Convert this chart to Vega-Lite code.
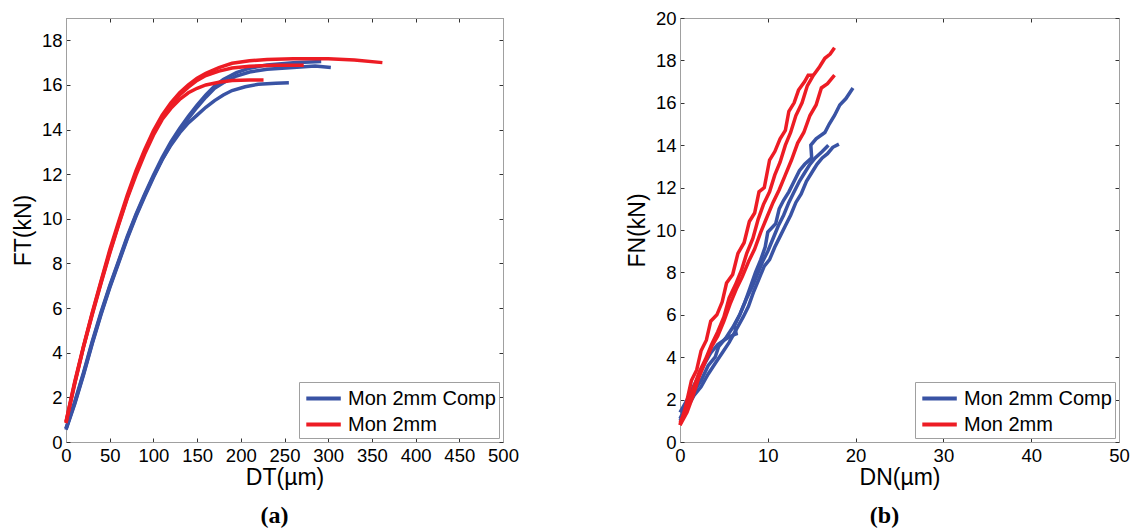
{
  "$schema": "https://vega.github.io/schema/vega-lite/v6.json",
  "padding": {"left": 12, "top": 9, "right": 0, "bottom": 0},
  "background": "white",
  "config": {
    "font": "Liberation Sans",
    "view": {"stroke": null},
    "axis": {
      "grid": false,
      "domainColor": "#a0a0a0",
      "domainWidth": 1,
      "tickColor": "#333333",
      "tickSize": -4,
      "tickWidth": 1,
      "labelFontSize": 18.5,
      "labelColor": "#000000",
      "labelPadding": 8,
      "labelOverlap": false,
      "labelFlush": false,
      "titleFontSize": 23,
      "titleFontWeight": "normal",
      "titleColor": "#000000"
    },
    "legend": {
      "orient": "bottom-right",
      "offset": 4,
      "padding": 3,
      "strokeColor": "#a0a0a0",
      "fillColor": "white",
      "symbolType": "M-0.8,0H2.2",
      "symbolSize": 529,
      "symbolStrokeWidth": 4,
      "labelFontSize": 20,
      "labelOffset": 19,
      "rowPadding": 2,
      "labelColor": "#000000"
    }
  },
  "datasets": {
    "a": [
      {"series":"Mon 2mm Comp","curve":"B1","x":0,"y":0.6},{"series":"Mon 2mm Comp","curve":"B1","x":10,"y":1.8},{"series":"Mon 2mm Comp","curve":"B1","x":20,"y":3.1},{"series":"Mon 2mm Comp","curve":"B1","x":30,"y":4.5},{"series":"Mon 2mm Comp","curve":"B1","x":40,"y":5.8},{"series":"Mon 2mm Comp","curve":"B1","x":50,"y":7.0},{"series":"Mon 2mm Comp","curve":"B1","x":60,"y":8.1},{"series":"Mon 2mm Comp","curve":"B1","x":70,"y":9.2},{"series":"Mon 2mm Comp","curve":"B1","x":80,"y":10.2},{"series":"Mon 2mm Comp","curve":"B1","x":90,"y":11.1},{"series":"Mon 2mm Comp","curve":"B1","x":100,"y":11.95},{"series":"Mon 2mm Comp","curve":"B1","x":110,"y":12.75},{"series":"Mon 2mm Comp","curve":"B1","x":120,"y":13.45},{"series":"Mon 2mm Comp","curve":"B1","x":130,"y":14.05},{"series":"Mon 2mm Comp","curve":"B1","x":140,"y":14.6},{"series":"Mon 2mm Comp","curve":"B1","x":150,"y":15.1},{"series":"Mon 2mm Comp","curve":"B1","x":160,"y":15.55},{"series":"Mon 2mm Comp","curve":"B1","x":170,"y":15.95},{"series":"Mon 2mm Comp","curve":"B1","x":180,"y":16.25},{"series":"Mon 2mm Comp","curve":"B1","x":195,"y":16.55},{"series":"Mon 2mm Comp","curve":"B1","x":210,"y":16.75},{"series":"Mon 2mm Comp","curve":"B1","x":230,"y":16.9},{"series":"Mon 2mm Comp","curve":"B1","x":260,"y":17.0},{"series":"Mon 2mm Comp","curve":"B1","x":292,"y":17.05},
      {"series":"Mon 2mm Comp","curve":"B2","x":0,"y":0.55},{"series":"Mon 2mm Comp","curve":"B2","x":10,"y":1.7},{"series":"Mon 2mm Comp","curve":"B2","x":20,"y":3.0},{"series":"Mon 2mm Comp","curve":"B2","x":30,"y":4.4},{"series":"Mon 2mm Comp","curve":"B2","x":40,"y":5.7},{"series":"Mon 2mm Comp","curve":"B2","x":50,"y":6.9},{"series":"Mon 2mm Comp","curve":"B2","x":60,"y":8.0},{"series":"Mon 2mm Comp","curve":"B2","x":70,"y":9.1},{"series":"Mon 2mm Comp","curve":"B2","x":80,"y":10.1},{"series":"Mon 2mm Comp","curve":"B2","x":90,"y":11.0},{"series":"Mon 2mm Comp","curve":"B2","x":100,"y":11.85},{"series":"Mon 2mm Comp","curve":"B2","x":110,"y":12.65},{"series":"Mon 2mm Comp","curve":"B2","x":120,"y":13.35},{"series":"Mon 2mm Comp","curve":"B2","x":130,"y":13.95},{"series":"Mon 2mm Comp","curve":"B2","x":140,"y":14.5},{"series":"Mon 2mm Comp","curve":"B2","x":150,"y":15.0},{"series":"Mon 2mm Comp","curve":"B2","x":160,"y":15.45},{"series":"Mon 2mm Comp","curve":"B2","x":170,"y":15.85},{"series":"Mon 2mm Comp","curve":"B2","x":180,"y":16.1},{"series":"Mon 2mm Comp","curve":"B2","x":195,"y":16.4},{"series":"Mon 2mm Comp","curve":"B2","x":210,"y":16.58},{"series":"Mon 2mm Comp","curve":"B2","x":230,"y":16.7},{"series":"Mon 2mm Comp","curve":"B2","x":260,"y":16.78},{"series":"Mon 2mm Comp","curve":"B2","x":285,"y":16.85},{"series":"Mon 2mm Comp","curve":"B2","x":303,"y":16.78},
      {"series":"Mon 2mm Comp","curve":"B3","x":0,"y":0.6},{"series":"Mon 2mm Comp","curve":"B3","x":10,"y":1.75},{"series":"Mon 2mm Comp","curve":"B3","x":20,"y":3.05},{"series":"Mon 2mm Comp","curve":"B3","x":30,"y":4.45},{"series":"Mon 2mm Comp","curve":"B3","x":40,"y":5.75},{"series":"Mon 2mm Comp","curve":"B3","x":50,"y":6.95},{"series":"Mon 2mm Comp","curve":"B3","x":60,"y":8.05},{"series":"Mon 2mm Comp","curve":"B3","x":70,"y":9.15},{"series":"Mon 2mm Comp","curve":"B3","x":80,"y":10.15},{"series":"Mon 2mm Comp","curve":"B3","x":90,"y":11.05},{"series":"Mon 2mm Comp","curve":"B3","x":100,"y":11.9},{"series":"Mon 2mm Comp","curve":"B3","x":110,"y":12.65},{"series":"Mon 2mm Comp","curve":"B3","x":120,"y":13.3},{"series":"Mon 2mm Comp","curve":"B3","x":130,"y":13.85},{"series":"Mon 2mm Comp","curve":"B3","x":140,"y":14.3},{"series":"Mon 2mm Comp","curve":"B3","x":150,"y":14.65},{"series":"Mon 2mm Comp","curve":"B3","x":160,"y":15.0},{"series":"Mon 2mm Comp","curve":"B3","x":170,"y":15.3},{"series":"Mon 2mm Comp","curve":"B3","x":180,"y":15.55},{"series":"Mon 2mm Comp","curve":"B3","x":190,"y":15.75},{"series":"Mon 2mm Comp","curve":"B3","x":205,"y":15.92},{"series":"Mon 2mm Comp","curve":"B3","x":220,"y":16.03},{"series":"Mon 2mm Comp","curve":"B3","x":240,"y":16.08},{"series":"Mon 2mm Comp","curve":"B3","x":255,"y":16.1},
      {"series":"Mon 2mm","curve":"R1","x":0,"y":0.9},{"series":"Mon 2mm","curve":"R1","x":10,"y":2.7},{"series":"Mon 2mm","curve":"R1","x":20,"y":4.3},{"series":"Mon 2mm","curve":"R1","x":30,"y":5.8},{"series":"Mon 2mm","curve":"R1","x":40,"y":7.2},{"series":"Mon 2mm","curve":"R1","x":50,"y":8.6},{"series":"Mon 2mm","curve":"R1","x":60,"y":9.85},{"series":"Mon 2mm","curve":"R1","x":70,"y":11.05},{"series":"Mon 2mm","curve":"R1","x":80,"y":12.15},{"series":"Mon 2mm","curve":"R1","x":90,"y":13.1},{"series":"Mon 2mm","curve":"R1","x":100,"y":13.95},{"series":"Mon 2mm","curve":"R1","x":110,"y":14.65},{"series":"Mon 2mm","curve":"R1","x":120,"y":15.2},{"series":"Mon 2mm","curve":"R1","x":130,"y":15.65},{"series":"Mon 2mm","curve":"R1","x":140,"y":16.0},{"series":"Mon 2mm","curve":"R1","x":150,"y":16.3},{"series":"Mon 2mm","curve":"R1","x":160,"y":16.52},{"series":"Mon 2mm","curve":"R1","x":175,"y":16.78},{"series":"Mon 2mm","curve":"R1","x":190,"y":16.97},{"series":"Mon 2mm","curve":"R1","x":210,"y":17.08},{"series":"Mon 2mm","curve":"R1","x":230,"y":17.14},{"series":"Mon 2mm","curve":"R1","x":260,"y":17.17},{"series":"Mon 2mm","curve":"R1","x":300,"y":17.17},{"series":"Mon 2mm","curve":"R1","x":330,"y":17.12},{"series":"Mon 2mm","curve":"R1","x":362,"y":17.0},
      {"series":"Mon 2mm","curve":"R2","x":0,"y":0.85},{"series":"Mon 2mm","curve":"R2","x":10,"y":2.6},{"series":"Mon 2mm","curve":"R2","x":20,"y":4.25},{"series":"Mon 2mm","curve":"R2","x":30,"y":5.75},{"series":"Mon 2mm","curve":"R2","x":40,"y":7.15},{"series":"Mon 2mm","curve":"R2","x":50,"y":8.5},{"series":"Mon 2mm","curve":"R2","x":60,"y":9.75},{"series":"Mon 2mm","curve":"R2","x":70,"y":10.95},{"series":"Mon 2mm","curve":"R2","x":80,"y":12.05},{"series":"Mon 2mm","curve":"R2","x":90,"y":13.0},{"series":"Mon 2mm","curve":"R2","x":100,"y":13.85},{"series":"Mon 2mm","curve":"R2","x":110,"y":14.55},{"series":"Mon 2mm","curve":"R2","x":120,"y":15.1},{"series":"Mon 2mm","curve":"R2","x":130,"y":15.55},{"series":"Mon 2mm","curve":"R2","x":140,"y":15.9},{"series":"Mon 2mm","curve":"R2","x":150,"y":16.2},{"series":"Mon 2mm","curve":"R2","x":160,"y":16.42},{"series":"Mon 2mm","curve":"R2","x":175,"y":16.62},{"series":"Mon 2mm","curve":"R2","x":190,"y":16.76},{"series":"Mon 2mm","curve":"R2","x":210,"y":16.84},{"series":"Mon 2mm","curve":"R2","x":240,"y":16.88},{"series":"Mon 2mm","curve":"R2","x":272,"y":16.88},
      {"series":"Mon 2mm","curve":"R3","x":0,"y":0.9},{"series":"Mon 2mm","curve":"R3","x":10,"y":2.65},{"series":"Mon 2mm","curve":"R3","x":20,"y":4.25},{"series":"Mon 2mm","curve":"R3","x":30,"y":5.7},{"series":"Mon 2mm","curve":"R3","x":40,"y":7.1},{"series":"Mon 2mm","curve":"R3","x":50,"y":8.45},{"series":"Mon 2mm","curve":"R3","x":60,"y":9.7},{"series":"Mon 2mm","curve":"R3","x":70,"y":10.9},{"series":"Mon 2mm","curve":"R3","x":80,"y":11.95},{"series":"Mon 2mm","curve":"R3","x":90,"y":12.9},{"series":"Mon 2mm","curve":"R3","x":100,"y":13.75},{"series":"Mon 2mm","curve":"R3","x":110,"y":14.45},{"series":"Mon 2mm","curve":"R3","x":120,"y":14.95},{"series":"Mon 2mm","curve":"R3","x":130,"y":15.35},{"series":"Mon 2mm","curve":"R3","x":140,"y":15.65},{"series":"Mon 2mm","curve":"R3","x":150,"y":15.85},{"series":"Mon 2mm","curve":"R3","x":160,"y":16.0},{"series":"Mon 2mm","curve":"R3","x":175,"y":16.12},{"series":"Mon 2mm","curve":"R3","x":190,"y":16.2},{"series":"Mon 2mm","curve":"R3","x":210,"y":16.22},{"series":"Mon 2mm","curve":"R3","x":226,"y":16.22}
    ],
    "b": [
      {"series":"Mon 2mm Comp","curve":"B1","x":0,"y":1.4},{"series":"Mon 2mm Comp","curve":"B1","x":0.7,"y":1.9},{"series":"Mon 2mm Comp","curve":"B1","x":1.4,"y":2.5},{"series":"Mon 2mm Comp","curve":"B1","x":2.1,"y":3.1},{"series":"Mon 2mm Comp","curve":"B1","x":2.8,"y":3.7},{"series":"Mon 2mm Comp","curve":"B1","x":3.5,"y":4.2},{"series":"Mon 2mm Comp","curve":"B1","x":4.3,"y":4.6},{"series":"Mon 2mm Comp","curve":"B1","x":5.0,"y":4.8},{"series":"Mon 2mm Comp","curve":"B1","x":5.8,"y":5.0},{"series":"Mon 2mm Comp","curve":"B1","x":6.4,"y":5.1},{"series":"Mon 2mm Comp","curve":"B1","x":6.2,"y":5.5},{"series":"Mon 2mm Comp","curve":"B1","x":6.8,"y":6.0},{"series":"Mon 2mm Comp","curve":"B1","x":7.4,"y":6.6},{"series":"Mon 2mm Comp","curve":"B1","x":8.0,"y":7.3},{"series":"Mon 2mm Comp","curve":"B1","x":8.6,"y":8.0},{"series":"Mon 2mm Comp","curve":"B1","x":9.2,"y":8.6},{"series":"Mon 2mm Comp","curve":"B1","x":9.7,"y":9.2},{"series":"Mon 2mm Comp","curve":"B1","x":10.0,"y":9.9},{"series":"Mon 2mm Comp","curve":"B1","x":10.9,"y":10.3},{"series":"Mon 2mm Comp","curve":"B1","x":11.3,"y":11.0},{"series":"Mon 2mm Comp","curve":"B1","x":11.8,"y":11.4},{"series":"Mon 2mm Comp","curve":"B1","x":12.4,"y":11.8},{"series":"Mon 2mm Comp","curve":"B1","x":13.0,"y":12.3},{"series":"Mon 2mm Comp","curve":"B1","x":13.6,"y":12.8},{"series":"Mon 2mm Comp","curve":"B1","x":14.2,"y":13.1},{"series":"Mon 2mm Comp","curve":"B1","x":15.0,"y":13.4},{"series":"Mon 2mm Comp","curve":"B1","x":14.9,"y":14.0},{"series":"Mon 2mm Comp","curve":"B1","x":15.5,"y":14.3},{"series":"Mon 2mm Comp","curve":"B1","x":16.5,"y":14.6},{"series":"Mon 2mm Comp","curve":"B1","x":17.0,"y":15.0},{"series":"Mon 2mm Comp","curve":"B1","x":17.6,"y":15.4},{"series":"Mon 2mm Comp","curve":"B1","x":18.2,"y":15.9},{"series":"Mon 2mm Comp","curve":"B1","x":18.9,"y":16.2},{"series":"Mon 2mm Comp","curve":"B1","x":19.7,"y":16.7},
      {"series":"Mon 2mm Comp","curve":"B2","x":0,"y":1.1},{"series":"Mon 2mm Comp","curve":"B2","x":0.8,"y":1.8},{"series":"Mon 2mm Comp","curve":"B2","x":1.6,"y":2.4},{"series":"Mon 2mm Comp","curve":"B2","x":2.4,"y":2.9},{"series":"Mon 2mm Comp","curve":"B2","x":3.2,"y":3.6},{"series":"Mon 2mm Comp","curve":"B2","x":4.0,"y":4.0},{"series":"Mon 2mm Comp","curve":"B2","x":4.4,"y":4.5},{"series":"Mon 2mm Comp","curve":"B2","x":5.2,"y":4.9},{"series":"Mon 2mm Comp","curve":"B2","x":6.0,"y":5.4},{"series":"Mon 2mm Comp","curve":"B2","x":6.8,"y":6.0},{"series":"Mon 2mm Comp","curve":"B2","x":7.5,"y":6.7},{"series":"Mon 2mm Comp","curve":"B2","x":8.2,"y":7.3},{"series":"Mon 2mm Comp","curve":"B2","x":8.8,"y":7.9},{"series":"Mon 2mm Comp","curve":"B2","x":9.4,"y":8.5},{"series":"Mon 2mm Comp","curve":"B2","x":10.0,"y":9.0},{"series":"Mon 2mm Comp","curve":"B2","x":10.6,"y":9.6},{"series":"Mon 2mm Comp","curve":"B2","x":11.2,"y":10.2},{"series":"Mon 2mm Comp","curve":"B2","x":11.8,"y":10.7},{"series":"Mon 2mm Comp","curve":"B2","x":12.4,"y":11.3},{"series":"Mon 2mm Comp","curve":"B2","x":13.0,"y":11.8},{"series":"Mon 2mm Comp","curve":"B2","x":13.6,"y":12.3},{"series":"Mon 2mm Comp","curve":"B2","x":14.2,"y":12.7},{"series":"Mon 2mm Comp","curve":"B2","x":14.8,"y":13.1},{"series":"Mon 2mm Comp","curve":"B2","x":15.4,"y":13.4},{"series":"Mon 2mm Comp","curve":"B2","x":16.2,"y":13.7},{"series":"Mon 2mm Comp","curve":"B2","x":16.9,"y":14.0},
      {"series":"Mon 2mm Comp","curve":"B3","x":0,"y":1.0},{"series":"Mon 2mm Comp","curve":"B3","x":0.8,"y":1.6},{"series":"Mon 2mm Comp","curve":"B3","x":1.6,"y":2.2},{"series":"Mon 2mm Comp","curve":"B3","x":2.4,"y":2.6},{"series":"Mon 2mm Comp","curve":"B3","x":3.2,"y":3.2},{"series":"Mon 2mm Comp","curve":"B3","x":4.0,"y":3.7},{"series":"Mon 2mm Comp","curve":"B3","x":4.8,"y":4.2},{"series":"Mon 2mm Comp","curve":"B3","x":5.6,"y":4.7},{"series":"Mon 2mm Comp","curve":"B3","x":6.4,"y":5.3},{"series":"Mon 2mm Comp","curve":"B3","x":7.2,"y":5.9},{"series":"Mon 2mm Comp","curve":"B3","x":7.8,"y":6.4},{"series":"Mon 2mm Comp","curve":"B3","x":8.4,"y":7.1},{"series":"Mon 2mm Comp","curve":"B3","x":9.0,"y":7.7},{"series":"Mon 2mm Comp","curve":"B3","x":9.6,"y":8.3},{"series":"Mon 2mm Comp","curve":"B3","x":10.2,"y":8.6},{"series":"Mon 2mm Comp","curve":"B3","x":10.8,"y":9.2},{"series":"Mon 2mm Comp","curve":"B3","x":11.4,"y":9.7},{"series":"Mon 2mm Comp","curve":"B3","x":12.0,"y":10.2},{"series":"Mon 2mm Comp","curve":"B3","x":12.6,"y":10.7},{"series":"Mon 2mm Comp","curve":"B3","x":13.2,"y":11.3},{"series":"Mon 2mm Comp","curve":"B3","x":13.8,"y":11.7},{"series":"Mon 2mm Comp","curve":"B3","x":14.4,"y":12.3},{"series":"Mon 2mm Comp","curve":"B3","x":15.0,"y":12.7},{"series":"Mon 2mm Comp","curve":"B3","x":15.6,"y":13.1},{"series":"Mon 2mm Comp","curve":"B3","x":16.2,"y":13.4},{"series":"Mon 2mm Comp","curve":"B3","x":16.8,"y":13.6},{"series":"Mon 2mm Comp","curve":"B3","x":17.4,"y":13.9},{"series":"Mon 2mm Comp","curve":"B3","x":18.1,"y":14.05},
      {"series":"Mon 2mm","curve":"R1","x":0,"y":0.8},{"series":"Mon 2mm","curve":"R1","x":0.6,"y":1.6},{"series":"Mon 2mm","curve":"R1","x":1.3,"y":2.9},{"series":"Mon 2mm","curve":"R1","x":1.9,"y":3.4},{"series":"Mon 2mm","curve":"R1","x":2.4,"y":4.3},{"series":"Mon 2mm","curve":"R1","x":3.0,"y":4.8},{"series":"Mon 2mm","curve":"R1","x":3.5,"y":5.7},{"series":"Mon 2mm","curve":"R1","x":4.2,"y":6.0},{"series":"Mon 2mm","curve":"R1","x":4.8,"y":6.6},{"series":"Mon 2mm","curve":"R1","x":5.3,"y":7.5},{"series":"Mon 2mm","curve":"R1","x":6.0,"y":7.9},{"series":"Mon 2mm","curve":"R1","x":6.6,"y":8.9},{"series":"Mon 2mm","curve":"R1","x":7.3,"y":9.4},{"series":"Mon 2mm","curve":"R1","x":7.9,"y":10.4},{"series":"Mon 2mm","curve":"R1","x":8.5,"y":10.8},{"series":"Mon 2mm","curve":"R1","x":9.0,"y":11.8},{"series":"Mon 2mm","curve":"R1","x":9.6,"y":12.0},{"series":"Mon 2mm","curve":"R1","x":10.2,"y":13.3},{"series":"Mon 2mm","curve":"R1","x":10.8,"y":13.7},{"series":"Mon 2mm","curve":"R1","x":11.4,"y":14.3},{"series":"Mon 2mm","curve":"R1","x":12.0,"y":14.7},{"series":"Mon 2mm","curve":"R1","x":12.4,"y":15.6},{"series":"Mon 2mm","curve":"R1","x":13.0,"y":16.0},{"series":"Mon 2mm","curve":"R1","x":13.5,"y":16.6},{"series":"Mon 2mm","curve":"R1","x":14.2,"y":17.0},{"series":"Mon 2mm","curve":"R1","x":14.6,"y":17.3},{"series":"Mon 2mm","curve":"R1","x":15.2,"y":17.3},
      {"series":"Mon 2mm","curve":"R2","x":0,"y":0.9},{"series":"Mon 2mm","curve":"R2","x":0.8,"y":1.6},{"series":"Mon 2mm","curve":"R2","x":1.5,"y":2.5},{"series":"Mon 2mm","curve":"R2","x":2.2,"y":3.3},{"series":"Mon 2mm","curve":"R2","x":2.9,"y":3.9},{"series":"Mon 2mm","curve":"R2","x":3.6,"y":4.6},{"series":"Mon 2mm","curve":"R2","x":4.3,"y":5.2},{"series":"Mon 2mm","curve":"R2","x":5.0,"y":5.9},{"series":"Mon 2mm","curve":"R2","x":5.6,"y":6.8},{"series":"Mon 2mm","curve":"R2","x":6.3,"y":7.4},{"series":"Mon 2mm","curve":"R2","x":7.0,"y":8.1},{"series":"Mon 2mm","curve":"R2","x":7.6,"y":8.9},{"series":"Mon 2mm","curve":"R2","x":8.3,"y":9.6},{"series":"Mon 2mm","curve":"R2","x":8.9,"y":10.5},{"series":"Mon 2mm","curve":"R2","x":9.5,"y":11.2},{"series":"Mon 2mm","curve":"R2","x":10.2,"y":11.8},{"series":"Mon 2mm","curve":"R2","x":10.8,"y":12.6},{"series":"Mon 2mm","curve":"R2","x":11.4,"y":13.2},{"series":"Mon 2mm","curve":"R2","x":12.0,"y":14.0},{"series":"Mon 2mm","curve":"R2","x":12.6,"y":14.6},{"series":"Mon 2mm","curve":"R2","x":13.2,"y":15.4},{"series":"Mon 2mm","curve":"R2","x":13.9,"y":16.0},{"series":"Mon 2mm","curve":"R2","x":14.5,"y":16.8},{"series":"Mon 2mm","curve":"R2","x":15.2,"y":17.3},{"series":"Mon 2mm","curve":"R2","x":15.9,"y":17.7},{"series":"Mon 2mm","curve":"R2","x":16.5,"y":18.1},{"series":"Mon 2mm","curve":"R2","x":17.1,"y":18.3},{"series":"Mon 2mm","curve":"R2","x":17.6,"y":18.6},
      {"series":"Mon 2mm","curve":"R3","x":0,"y":0.8},{"series":"Mon 2mm","curve":"R3","x":0.8,"y":1.4},{"series":"Mon 2mm","curve":"R3","x":1.5,"y":2.2},{"series":"Mon 2mm","curve":"R3","x":2.2,"y":3.1},{"series":"Mon 2mm","curve":"R3","x":2.9,"y":3.8},{"series":"Mon 2mm","curve":"R3","x":3.6,"y":4.5},{"series":"Mon 2mm","curve":"R3","x":4.3,"y":5.0},{"series":"Mon 2mm","curve":"R3","x":5.0,"y":5.7},{"series":"Mon 2mm","curve":"R3","x":5.7,"y":6.5},{"series":"Mon 2mm","curve":"R3","x":6.4,"y":7.2},{"series":"Mon 2mm","curve":"R3","x":7.1,"y":7.8},{"series":"Mon 2mm","curve":"R3","x":7.8,"y":8.5},{"series":"Mon 2mm","curve":"R3","x":8.5,"y":9.1},{"series":"Mon 2mm","curve":"R3","x":9.2,"y":9.9},{"series":"Mon 2mm","curve":"R3","x":9.9,"y":10.6},{"series":"Mon 2mm","curve":"R3","x":10.6,"y":11.3},{"series":"Mon 2mm","curve":"R3","x":11.3,"y":11.9},{"series":"Mon 2mm","curve":"R3","x":12.0,"y":12.6},{"series":"Mon 2mm","curve":"R3","x":12.7,"y":13.3},{"series":"Mon 2mm","curve":"R3","x":13.4,"y":14.1},{"series":"Mon 2mm","curve":"R3","x":14.1,"y":14.6},{"series":"Mon 2mm","curve":"R3","x":14.8,"y":15.4},{"series":"Mon 2mm","curve":"R3","x":15.5,"y":15.9},{"series":"Mon 2mm","curve":"R3","x":16.1,"y":16.7},{"series":"Mon 2mm","curve":"R3","x":16.8,"y":16.9},{"series":"Mon 2mm","curve":"R3","x":17.6,"y":17.3}
    ]
  },
  "spacing": 107,
  "resolve": {"scale": {"color": "independent"}, "legend": {"color": "independent"}},
  "hconcat": [
    {
      "width": 437,
      "height": 424,
      "data": {"name": "a"},
      "title": {"text": "(a)", "orient": "bottom", "frame": "group", "anchor": "middle", "font": "Liberation Serif", "fontWeight": "bold", "fontSize": 24, "offset": 14, "dx": -10, "color": "#000000"},
      "layer": [
        {
          "mark": {"type": "line", "strokeWidth": 3.5},
          "encoding": {
            "x": {"field": "x", "type": "quantitative", "scale": {"domain": [0, 500], "nice": false}, "axis": {"orient": "bottom", "values": [0,50,100,150,200,250,300,350,400,450,500], "title": "DT(µm)", "titlePadding": 2}},
            "y": {"field": "y", "type": "quantitative", "scale": {"domain": [0, 19], "nice": false}, "axis": {"orient": "left", "values": [0,2,4,6,8,10,12,14,16,18], "title": "FT(kN)", "titlePadding": 6}},
            "color": {"field": "series", "type": "nominal", "scale": {"domain": ["Mon 2mm Comp", "Mon 2mm"], "range": ["#3953a4", "#ed1c24"]}, "legend": {"title": null}},
            "detail": {"field": "curve"},
            "order": {"value": null}
          }
        },
        {
          "mark": {"type": "point", "opacity": 0},
          "encoding": {
            "x": {"field": "x", "type": "quantitative", "scale": {"domain": [0, 500], "nice": false}, "axis": {"orient": "top", "values": [0,50,100,150,200,250,300,350,400,450,500], "labels": false, "title": null}},
            "y": {"field": "y", "type": "quantitative", "scale": {"domain": [0, 19], "nice": false}, "axis": {"orient": "right", "values": [0,2,4,6,8,10,12,14,16,18], "labels": false, "title": null}}
          }
        }
      ],
      "resolve": {"axis": {"x": "independent", "y": "independent"}}
    },
    {
      "width": 439,
      "height": 424,
      "data": {"name": "b"},
      "title": {"text": "(b)", "orient": "bottom", "frame": "group", "anchor": "middle", "font": "Liberation Serif", "fontWeight": "bold", "fontSize": 24, "offset": 14, "dx": -15, "color": "#000000"},
      "layer": [
        {
          "mark": {"type": "line", "strokeWidth": 3.5},
          "encoding": {
            "x": {"field": "x", "type": "quantitative", "scale": {"domain": [0, 50], "nice": false}, "axis": {"orient": "bottom", "values": [0,10,20,30,40,50], "title": "DN(µm)", "titlePadding": 2}},
            "y": {"field": "y", "type": "quantitative", "scale": {"domain": [0, 20], "nice": false}, "axis": {"orient": "left", "values": [0,2,4,6,8,10,12,14,16,18,20], "title": "FN(kN)", "titlePadding": 6}},
            "color": {"field": "series", "type": "nominal", "scale": {"domain": ["Mon 2mm Comp", "Mon 2mm"], "range": ["#3953a4", "#ed1c24"]}, "legend": {"title": null}},
            "detail": {"field": "curve"},
            "order": {"value": null}
          }
        },
        {
          "mark": {"type": "point", "opacity": 0},
          "encoding": {
            "x": {"field": "x", "type": "quantitative", "scale": {"domain": [0, 50], "nice": false}, "axis": {"orient": "top", "values": [0,10,20,30,40,50], "labels": false, "title": null}},
            "y": {"field": "y", "type": "quantitative", "scale": {"domain": [0, 20], "nice": false}, "axis": {"orient": "right", "values": [0,2,4,6,8,10,12,14,16,18,20], "labels": false, "title": null}}
          }
        }
      ],
      "resolve": {"axis": {"x": "independent", "y": "independent"}}
    }
  ]
}
